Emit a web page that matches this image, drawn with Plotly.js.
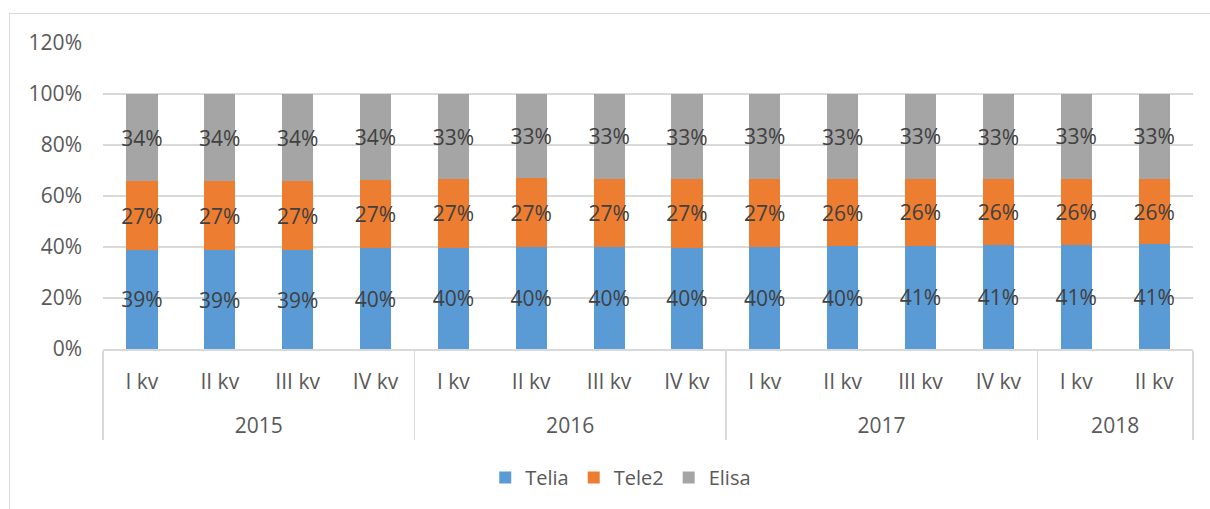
<!DOCTYPE html>
<html>
<head>
<meta charset="utf-8">
<script src="https://cdn.plot.ly/plotly-3.0.1.min.js"></script>
<style>
html,body{margin:0;padding:0;background:#fff;}
#wrap{position:relative;width:1210px;height:509px;overflow:hidden;}
#chart{position:absolute;left:0;top:0;width:1210px;height:509px;}
#frame{position:absolute;left:9px;top:13px;width:1300px;height:600px;border:1.5px solid #d9d9d9;pointer-events:none;}
</style>
</head>
<body>
<div id="wrap"><div id="frame"></div><div id="chart"></div></div>
<script>
const years = ["2015","2015","2015","2015","2016","2016","2016","2016","2017","2017","2017","2017","2018","2018"];
const quarters = ["I kv","II kv","III kv","IV kv","I kv","II kv","III kv","IV kv","I kv","II kv","III kv","IV kv","I kv","II kv"];
const telia = [0.389,0.388,0.387,0.395,0.398,0.399,0.399,0.398,0.399,0.402,0.405,0.407,0.409,0.411];
const tele2 = [0.269,0.270,0.270,0.268,0.268,0.270,0.268,0.268,0.268,0.264,0.262,0.259,0.259,0.256];
const elisa = [0.342,0.342,0.343,0.337,0.334,0.331,0.333,0.334,0.333,0.334,0.333,0.334,0.332,0.333];

const FONT = "Open Sans, Noto Sans, sans-serif";
const yearLabels = years.map(y => '<br>' + y);
function mk(name, vals, color){
  return {
    type:'bar', name:name, x:[yearLabels, quarters], y:vals,
    marker:{color:color},
    texttemplate:'%{y:.0%}', textposition:'inside', insidetextanchor:'middle',
    textangle:0, constraintext:'none',
    textfont:{family:FONT, size:21, color:'#404040'},
    hoverinfo:'skip'
  };
}
const data = [mk('Telia', telia, '#5b9bd5'), mk('Tele2', tele2, '#ed7d31'), mk('Elisa', elisa, '#a5a5a5')];
const layout = {
  width:1210, height:509,
  margin:{l:103, r:17, t:43, b:160},
  paper_bgcolor:'rgba(0,0,0,0)', plot_bgcolor:'rgba(0,0,0,0)',
  barmode:'stack', bargap:0.6,
  showlegend:true,
  legend:{orientation:'h', traceorder:'normal', x:0.475, xanchor:'center', y:-0.42, yanchor:'middle',
          itemwidth:30, font:{family:FONT, size:20, color:'#595959'}, itemclick:false},
  xaxis:{type:'multicategory', showline:true, linecolor:'#d9d9d9', linewidth:1.5,
         showdividers:true, dividercolor:'#d9d9d9', dividerwidth:1.5,
         ticks:'', ticklabelstandoff:13,
         tickfont:{family:FONT, size:21, color:'#595959'}, showgrid:false},
  yaxis:{range:[0,1.2], dtick:0.2, tickformat:'.0%', showgrid:true, gridcolor:'#d9d9d9', gridwidth:1.5,
         zeroline:false, ticklabelstandoff:20,
         tickfont:{family:FONT, size:21, color:'#595959'}, ticks:'', showline:false},
  font:{family:FONT}
};
Plotly.newPlot('chart', data, layout, {displayModeBar:false, staticPlot:true});
</script>
</body>
</html>
